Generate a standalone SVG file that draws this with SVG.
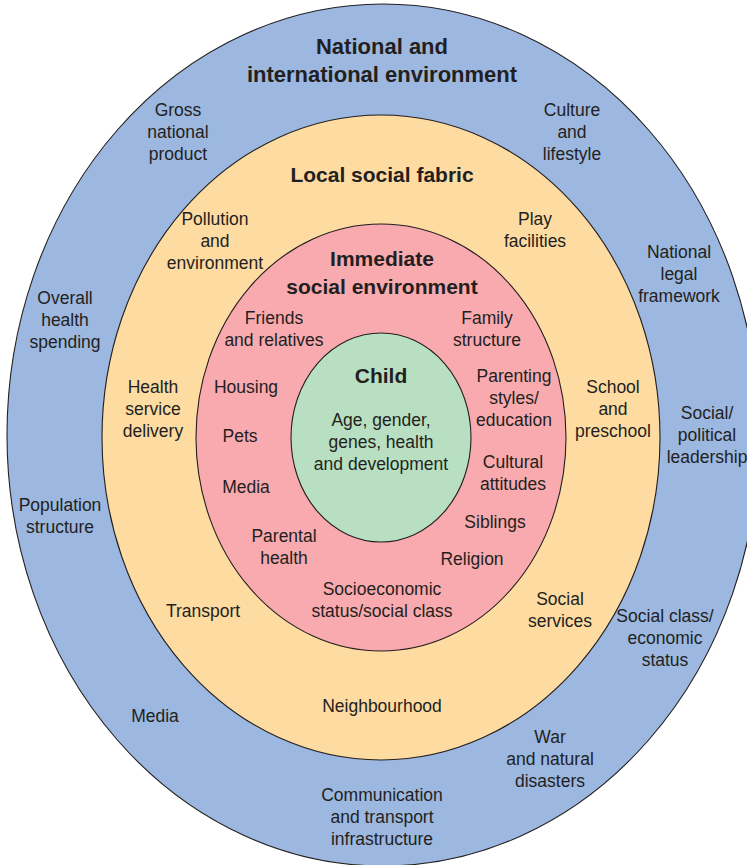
<svg xmlns="http://www.w3.org/2000/svg" width="747" height="865" viewBox="0 0 747 865">
<style>
.ring{stroke:#231f20;stroke-width:1.1}
text{font-family:"Liberation Sans",Arial,sans-serif;fill:#231f20;text-anchor:middle}
.t{font-size:17.5px}
.h{font-size:21px;font-weight:bold}
.h2{font-size:22px;font-weight:bold}
</style>
<rect x="0" y="0" width="747" height="865" fill="#ffffff"/>
<g id="national">
<ellipse class="ring" cx="383" cy="435" rx="376" ry="431" fill="#9cb7e0"/>
<text class="h2" x="382" y="54">National and</text>
<text class="h2" x="382" y="82">international environment</text>
<text class="t" x="178" y="116">Gross</text>
<text class="t" x="178" y="138">national</text>
<text class="t" x="178" y="160">product</text>
<text class="t" x="572" y="116">Culture</text>
<text class="t" x="572" y="138">and</text>
<text class="t" x="572" y="160">lifestyle</text>
<text class="t" x="679" y="258">National</text>
<text class="t" x="679" y="280">legal</text>
<text class="t" x="679" y="302">framework</text>
<text class="t" x="65" y="304">Overall</text>
<text class="t" x="65" y="326">health</text>
<text class="t" x="65" y="348">spending</text>
<text class="t" x="707" y="419">Social/</text>
<text class="t" x="707" y="441">political</text>
<text class="t" x="707" y="463">leadership</text>
<text class="t" x="60" y="511">Population</text>
<text class="t" x="60" y="533">structure</text>
<text class="t" x="665" y="622">Social class/</text>
<text class="t" x="665" y="644">economic</text>
<text class="t" x="665" y="666">status</text>
<text class="t" x="155" y="722">Media</text>
<text class="t" x="550" y="743">War</text>
<text class="t" x="550" y="765">and natural</text>
<text class="t" x="550" y="787">disasters</text>
<text class="t" x="382" y="801">Communication</text>
<text class="t" x="382" y="823">and transport</text>
<text class="t" x="382" y="845">infrastructure</text>
</g>
<g id="local">
<ellipse class="ring" cx="381" cy="437.5" rx="279" ry="322.5" fill="#fddba1"/>
<text class="h" x="382" y="182">Local social fabric</text>
<text class="t" x="215" y="225">Pollution</text>
<text class="t" x="215" y="247">and</text>
<text class="t" x="215" y="269">environment</text>
<text class="t" x="535" y="225">Play</text>
<text class="t" x="535" y="247">facilities</text>
<text class="t" x="153" y="393">Health</text>
<text class="t" x="153" y="415">service</text>
<text class="t" x="153" y="437">delivery</text>
<text class="t" x="613" y="393">School</text>
<text class="t" x="613" y="415">and</text>
<text class="t" x="613" y="437">preschool</text>
<text class="t" x="203" y="617">Transport</text>
<text class="t" x="560" y="605">Social</text>
<text class="t" x="560" y="627">services</text>
<text class="t" x="382" y="712">Neighbourhood</text>
</g>
<g id="immediate">
<ellipse class="ring" cx="381" cy="437.5" rx="185" ry="213.5" fill="#f9aaaf"/>
<text class="h" x="382" y="266">Immediate</text>
<text class="h" x="382" y="294">social environment</text>
<text class="t" x="274" y="324">Friends</text>
<text class="t" x="274" y="346">and relatives</text>
<text class="t" x="487" y="324">Family</text>
<text class="t" x="487" y="346">structure</text>
<text class="t" x="246" y="393">Housing</text>
<text class="t" x="514" y="382">Parenting</text>
<text class="t" x="514" y="404">styles/</text>
<text class="t" x="514" y="426">education</text>
<text class="t" x="240" y="442">Pets</text>
<text class="t" x="513" y="468">Cultural</text>
<text class="t" x="513" y="490">attitudes</text>
<text class="t" x="246" y="493">Media</text>
<text class="t" x="495" y="528">Siblings</text>
<text class="t" x="284" y="542">Parental</text>
<text class="t" x="284" y="564">health</text>
<text class="t" x="472" y="565">Religion</text>
<text class="t" x="382" y="595">Socioeconomic</text>
<text class="t" x="382" y="617">status/social class</text>
</g>
<g id="child">
<ellipse class="ring" cx="381" cy="437.5" rx="90" ry="104.5" fill="#b8dfc2"/>
<text class="h" x="381" y="383">Child</text>
<text class="t" x="381" y="426">Age, gender,</text>
<text class="t" x="381" y="448">genes, health</text>
<text class="t" x="381" y="470">and development</text>
</g>
</svg>
